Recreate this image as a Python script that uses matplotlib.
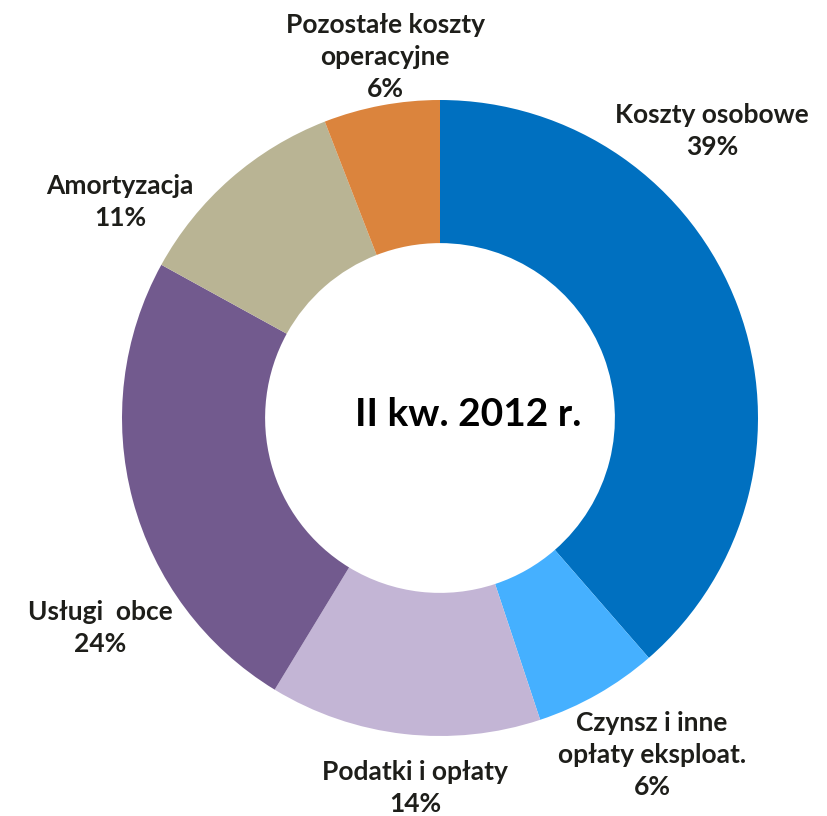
import matplotlib
matplotlib.use("Agg")
import matplotlib.pyplot as plt

# cost structure, clockwise from 12 o'clock
categories = [
    "Koszty osobowe",
    "Czynsz i inne\nopłaty eksploat.",
    "Podatki i opłaty",
    "Usługi  obce",
    "Amortyzacja",
    "Pozostałe koszty\noperacyjne",
]
shares = [38.6, 6.3, 13.8, 24.3, 11.1, 5.9]
colors = ["#0070C0", "#45B0FF", "#C3B5D5", "#725A8E", "#B9B494", "#DB843D"]
center_title = "II kw. 2012 r."

# label anchor points in pixel space (x, y from top)
label_pos = [(712, 131), (652, 755), (415, 788), (100, 628), (120, 202), (385, 57)]

plt.rcParams["font.family"] = ["Lato", "DejaVu Sans"]
TEXT = "#1E1E1A"

W, H = 827, 816
fig = plt.figure(figsize=(W / 100, H / 100), dpi=100)
ax = fig.add_axes([0, 0, 1, 1])

cx, cy, r = 440, H - 418, 318
ax.pie(
    shares, colors=colors, startangle=90, counterclock=False,
    center=(cx, cy), radius=r, frame=True,
    wedgeprops=dict(width=r * 0.45, linewidth=0),
)
ax.set_xlim(0, W)
ax.set_ylim(0, H)
ax.set_aspect("equal")
ax.axis("off")

for name, val, (x, y) in zip(categories, shares, label_pos):
    ax.text(x, H - y, f"{name}\n{val:.0f}%", ha="center", va="center",
            fontsize=19, fontweight="bold", color=TEXT, linespacing=1.4)

ax.text(468, H - 415, center_title, ha="center", va="center",
        fontsize=28, fontweight="bold", color="#000000")

fig.savefig("out.png", dpi=100)
